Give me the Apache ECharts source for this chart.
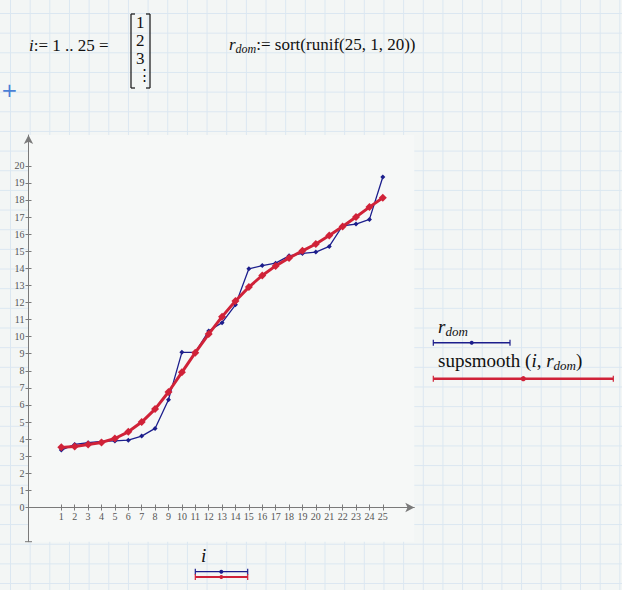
<!DOCTYPE html>
<html>
<head>
<meta charset="utf-8">
<script src="https://cdn.jsdelivr.net/npm/echarts@6/dist/echarts.min.js"></script>
<style>
  html, body { margin: 0; padding: 0; }
  #sheet {
    width: 622px; height: 590px;
    background-color: #f3f6f5;
    background-image:
      linear-gradient(to right, #dbe7f1 1px, transparent 1px),
      linear-gradient(to bottom, #dbe7f1 1px, transparent 1px);
    background-size: 19.67px 19.67px;
    background-position: 10px 13px;
  }
</style>
</head>
<body>
<div id="sheet"></div>
<script>
// i := 1..25
const iVals = [1,2,3,4,5,6,7,8,9,10,11,12,13,14,15,16,17,18,19,20,21,22,23,24,25]
// r_dom := sort(runif(25,1,20))
const rDom = [3.36,3.69,3.79,3.87,3.90,3.94,4.18,4.63,6.31,9.08,9.08,10.33,10.82,11.86,13.97,14.16,14.30,14.73,14.87,14.95,15.28,16.49,16.59,16.86,19.34]
// supsmooth(i, r_dom)
const smoothed = [3.52,3.57,3.69,3.81,4.04,4.43,5.00,5.76,6.76,7.91,9.06,10.15,11.17,12.09,12.90,13.58,14.14,14.60,15.02,15.42,15.92,16.45,17.00,17.58,18.13]

const xTicks = iVals
const yTicks = [0,1,2,3,4,5,6,7,8,9,10,11,12,13,14,15,16,17,18,19,20]

const blue = '#1c1e8c'
const red = '#d02238'
const axisGray = '#7a7a7a'
const serif = '"Liberation Serif", "DejaVu Serif", serif'

const xMin = -1.45
const xMax = 27.35
const yMin = -2
const yMax = 21.8
const gridTop = 135
const gridBottom = 48.3
// x axis sits on y = 0, not at the bottom of the plot box
const plotH = 590 - gridTop - gridBottom
const xAxisLift = -plotH * (0 - yMin) / (yMax - yMin)

const myChart = echarts.init(document.getElementById('sheet'), null, { renderer: 'svg' })

// little trace descriptor under a label: line with end caps and a marker in the middle
function traceKey(x1, x2, y, color, width, mark) {
  return [
    { type: 'line', shape: { x1: x1, y1: y, x2: x2, y2: y }, style: { stroke: color, lineWidth: width } },
    { type: 'line', shape: { x1: x1, y1: y - 3, x2: x1, y2: y + 3 }, style: { stroke: color, lineWidth: 1.2 } },
    { type: 'line', shape: { x1: x2, y1: y - 3, x2: x2, y2: y + 3 }, style: { stroke: color, lineWidth: 1.2 } },
    { type: 'circle', shape: { cx: mark, cy: y, r: width > 2 ? 2.6 : 2 }, style: { fill: color } }
  ]
}

const mathRich = {
  it: { fontFamily: serif, fontStyle: 'italic', fontSize: 17, fill: '#111' },
  sub: { fontFamily: serif, fontStyle: 'italic', fontSize: 12, fill: '#111', padding: [8, 0, 0, 0] },
  n: { fontFamily: serif, fontSize: 17, fill: '#111' },
  big: { fontFamily: serif, fontSize: 19, fill: '#111' },
  bigIt: { fontFamily: serif, fontStyle: 'italic', fontSize: 19, fill: '#111' },
  bigSub: { fontFamily: serif, fontStyle: 'italic', fontSize: 13, fill: '#111', padding: [9, 0, 0, 0] }
}

const option = {
  animation: false,
  grid: {
    left: 28.5, right: 207.7, top: gridTop, bottom: gridBottom,
    show: true, borderWidth: 0, backgroundColor: '#f6f8f7'
  },
  xAxis: [
    {
      type: 'value', min: xMin, max: xMax,
      position: 'bottom', offset: xAxisLift,
      splitLine: { show: false },
      axisLine: {
        onZero: false, symbol: ['none', 'arrow'], symbolSize: [7, 9],
        lineStyle: { color: axisGray, width: 1 }
      },
      axisTick: { customValues: xTicks, length: 3, lineStyle: { color: axisGray } },
      axisLabel: {
        customValues: xTicks, margin: 4,
        fontFamily: serif, fontSize: 10, color: '#555'
      }
    },
    {
      // second copy only for the inner half of the crossing ticks
      type: 'value', min: xMin, max: xMax,
      position: 'bottom', offset: xAxisLift,
      splitLine: { show: false },
      axisLine: { onZero: false, show: false },
      axisTick: { customValues: xTicks, length: 3, inside: true, lineStyle: { color: axisGray } },
      axisLabel: { show: false }
    }
  ],
  yAxis: [
    {
      type: 'value', min: yMin, max: yMax,
      splitLine: { show: false },
      axisLine: {
        onZero: false, symbol: ['none', 'arrow'], symbolSize: [7, 9],
        lineStyle: { color: axisGray, width: 1 }
      },
      axisTick: { customValues: yTicks, length: 3, lineStyle: { color: axisGray } },
      axisLabel: {
        customValues: yTicks, margin: 4,
        fontFamily: serif, fontSize: 10, color: '#555'
      }
    },
    {
      type: 'value', min: yMin, max: yMax, position: 'left',
      splitLine: { show: false },
      axisLine: { onZero: false, show: false },
      axisTick: { customValues: yTicks, length: 3, inside: true, lineStyle: { color: axisGray } },
      axisLabel: { show: false }
    }
  ],
  series: [
    {
      name: 'r_dom',
      type: 'line',
      data: iVals.map((v, k) => [v, rDom[k]]),
      symbol: 'diamond', symbolSize: 5,
      itemStyle: { color: blue },
      lineStyle: { color: blue, width: 1.3 },
      z: 2
    },
    {
      name: 'supsmooth(i, r_dom)',
      type: 'line',
      data: iVals.map((v, k) => [v, smoothed[k]]),
      symbol: 'diamond', symbolSize: 8,
      itemStyle: { color: red },
      lineStyle: { color: red, width: 3 },
      z: 3
    }
  ],
  graphic: [
    // worksheet definitions
    { type: 'text', left: 29, top: 37, style: { text: '{it|i}{n|:= 1 .. 25 =}', rich: mathRich } },
    { type: 'line', shape: { x1: 131, y1: 14, x2: 131, y2: 88 }, style: { stroke: '#222', lineWidth: 1.3 } },
    { type: 'line', shape: { x1: 131, y1: 14, x2: 135, y2: 14 }, style: { stroke: '#222', lineWidth: 1.3 } },
    { type: 'line', shape: { x1: 131, y1: 88, x2: 135, y2: 88 }, style: { stroke: '#222', lineWidth: 1.3 } },
    { type: 'line', shape: { x1: 150, y1: 14, x2: 150, y2: 88 }, style: { stroke: '#222', lineWidth: 1.3 } },
    { type: 'line', shape: { x1: 146, y1: 14, x2: 150, y2: 14 }, style: { stroke: '#222', lineWidth: 1.3 } },
    { type: 'line', shape: { x1: 146, y1: 88, x2: 150, y2: 88 }, style: { stroke: '#222', lineWidth: 1.3 } },
    { type: 'text', left: 136, top: 14, style: { text: '1', font: '17px ' + serif, fill: '#111' } },
    { type: 'text', left: 136, top: 32, style: { text: '2', font: '17px ' + serif, fill: '#111' } },
    { type: 'text', left: 136, top: 50, style: { text: '3', font: '17px ' + serif, fill: '#111' } },
    { type: 'text', left: 137, top: 67, style: { text: '⋮', font: '15px ' + serif, fill: '#111' } },
    { type: 'text', left: 229, top: 36, style: { text: '{it|r}{sub|dom}{n|:= sort(runif(25, 1, 20))}', rich: mathRich } },
    { type: 'text', left: 1, top: 80, style: { text: '+', font: '20px "DejaVu Sans", sans-serif', fill: '#4a7fd6' } },
    // foot of the y axis
    { type: 'line', shape: { x1: 25, y1: 541.7, x2: 32, y2: 541.7 }, style: { stroke: axisGray, lineWidth: 1 } },

    // trace labels on the right
    { type: 'text', left: 438, top: 317, style: { text: '{bigIt|r}{bigSub|dom}', rich: mathRich } },
    ...traceKey(433.3, 510, 342.7, blue, 1.5, 471.7),
    { type: 'text', left: 438, top: 351, style: { text: '{big|supsmooth (}{bigIt|i}{big|, }{bigIt|r}{bigSub|dom}{big|)}', rich: mathRich } },
    ...traceKey(433.3, 613.3, 378.7, red, 2.5, 523.3),

    // x-axis expression under the plot
    { type: 'text', left: 201, top: 546, style: { text: '{bigIt|i}', rich: mathRich } },
    ...traceKey(195.3, 247.7, 571.7, blue, 1.3, 221.3),
    ...traceKey(195.3, 247.7, 577, red, 2, 221.3)
  ]
}

myChart.setOption(option)
</script>
</body>
</html>
